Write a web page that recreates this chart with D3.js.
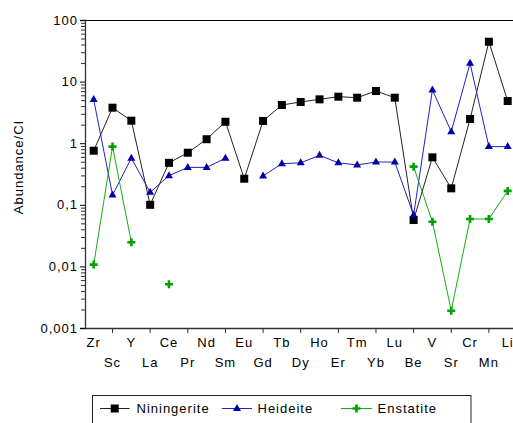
<!DOCTYPE html>
<html>
<head>
<meta charset="utf-8">
<script src="https://cdn.jsdelivr.net/npm/d3@7"></script>
<style>
  html, body { margin: 0; padding: 0; background: #fff; }
  svg { display: block; }
  text { font-family: "Liberation Sans", Arial, sans-serif; font-size: 13px; letter-spacing: 1px; fill: #000; }
</style>
</head>
<body>
<svg id="chart" width="513" height="423"></svg>
<script>
const categories = ["Zr","Sc","Y","La","Ce","Pr","Nd","Sm","Eu","Gd","Tb","Dy","Ho","Er","Tm","Yb","Lu","Be","V","Sr","Cr","Mn","Li"];
const niningerite = [0.755, 3.77, 2.32, 0.10, 0.48, 0.70, 1.16, 2.23, 0.265, 2.3, 4.17, 4.67, 5.15, 5.69, 5.48, 7.03, 5.48, 0.0566, 0.59, 0.185, 2.47, 44.4, 4.84];
const heideite = [5.1, 0.144, 0.57, 0.16, 0.297, 0.405, 0.405, 0.57, null, 0.294, 0.466, 0.48, 0.635, 0.48, 0.443, 0.495, 0.495, 0.068, 7.3, 1.54, 19.8, 0.88, 0.88];
const enstatite = [0.0107, 0.88, 0.0246, null, 0.00512, null, null, null, null, null, null, null, null, null, null, null, null, 0.416, 0.0532, 0.00191, 0.0588, 0.0588, 0.168];
const yTickValues = [100, 10, 1, 0.1, 0.01, 0.001];
const yTickLabels = ["100", "10", "1", "0,1", "0,01", "0,001"];
const seriesNames = ["Niningerite", "Heideite", "Enstatite"];
const yTitle = "Abundance/CI";

const svg = d3.select("#chart");
const plot = { left: 85, top: 20, right: 513, bottom: 328 };

const x = d3.scalePoint().domain(categories).range([93.7, 507.7]);
const y = d3.scaleLog().domain([0.001, 100]).range([plot.bottom, plot.top]);

// top frame line
svg.append("line").attr("x1", plot.left).attr("x2", plot.right)
  .attr("y1", plot.top + 0.5).attr("y2", plot.top + 0.5)
  .attr("stroke", "#000").attr("stroke-width", 1.2);

// Y axis with major + minor ticks
const minorTicks = [];
for (let e = -3; e < 2; e++) {
  for (let m = 2; m <= 9; m++) minorTicks.push(m * Math.pow(10, e));
}
const yAxisMinor = d3.axisLeft(y).tickValues(minorTicks).tickSize(4).tickFormat("");
const gMinor = svg.append("g").attr("transform", `translate(${plot.left},0)`).call(yAxisMinor);
gMinor.select(".domain").remove();
gMinor.selectAll("line").attr("stroke", "#333");

const yAxis = d3.axisLeft(y).tickValues(yTickValues).tickSize(5).tickPadding(2)
  .tickFormat((d, i) => yTickLabels[i]);
const gY = svg.append("g").attr("transform", `translate(${plot.left},0)`).call(yAxis);
gY.select(".domain").attr("stroke", "#333").attr("stroke-width", 1.3);
gY.selectAll("text").style("font-size", "13px").attr("fill", "#000");

// X axis: ticks at odd indices, labels in two rows
const xAxis = d3.axisBottom(x).tickSize(0).tickFormat("");
const gX = svg.append("g").attr("transform", `translate(0,${plot.bottom})`).call(xAxis);
gX.select(".domain").attr("d", `M${plot.left},0.5H${plot.right}`).attr("stroke", "#333").attr("stroke-width", 1.3);
categories.forEach((c, i) => {
  if (i % 2 === 1) {
    gX.append("line").attr("x1", x(c)).attr("x2", x(c)).attr("y1", 0).attr("y2", 5)
      .attr("stroke", "#333");
  }
  gX.append("text").attr("x", x(c)).attr("y", i % 2 === 0 ? 19 : 39)
    .attr("text-anchor", "middle").text(c);
});

// Y title
svg.append("text").attr("transform", `translate(23,167) rotate(-90)`)
  .attr("text-anchor", "middle").text(yTitle);

// Series
const series = [
  { name: seriesNames[0], values: niningerite, line: "#222", fill: "#000", marker: "square" },
  { name: seriesNames[1], values: heideite, line: "#2020c8", fill: "#0000a8", marker: "triangle" },
  { name: seriesNames[2], values: enstatite, line: "#10b010", fill: "#00a000", marker: "plus" }
];

const line = d3.line()
  .defined(d => d.v != null)
  .x(d => x(d.c)).y(d => y(d.v));

function drawMarker(g, type, cx, cy, fill) {
  if (type === "square") {
    g.append("rect").attr("x", cx - 4).attr("y", cy - 4).attr("width", 8).attr("height", 8).attr("fill", fill);
  } else if (type === "triangle") {
    g.append("path").attr("d", `M${cx},${cy - 4.5}L${cx + 4},${cy + 2.5}L${cx - 4},${cy + 2.5}Z`).attr("fill", fill);
  } else {
    g.append("path").attr("d", `M${cx - 4},${cy}H${cx + 4}M${cx},${cy - 4}V${cy + 4}`)
      .attr("stroke", fill).attr("stroke-width", 2.6).attr("fill", "none");
  }
}

series.forEach(s => {
  const data = categories.map((c, i) => ({ c, v: s.values[i] }));
  svg.append("path").datum(data).attr("d", line)
    .attr("fill", "none").attr("stroke", s.line).attr("stroke-width", 1);
  const g = svg.append("g");
  data.filter(d => d.v != null).forEach(d => drawMarker(g, s.marker, x(d.c), y(d.v), s.fill));
});

// Legend
const lg = svg.append("g");
lg.append("rect").attr("x", 92.5).attr("y", 395.5).attr("width", 378.5).attr("height", 40)
  .attr("fill", "none").attr("stroke", "#222").attr("stroke-width", 1);
const legendItems = [
  { s: series[0], x0: 100, x1: 129.5, tx: 136.5 },
  { s: series[1], x0: 222, x1: 252, tx: 257.5 },
  { s: series[2], x0: 341, x1: 372, tx: 377.5 }
];
legendItems.forEach(it => {
  const ly = 408.5;
  lg.append("line").attr("x1", it.x0).attr("x2", it.x1).attr("y1", ly).attr("y2", ly)
    .attr("stroke", it.s.line).attr("stroke-width", 1);
  drawMarker(lg, it.s.marker, (it.x0 + it.x1) / 2, ly, it.s.fill);
  lg.append("text").attr("x", it.tx).attr("y", ly).attr("dy", "0.36em").text(it.s.name);
});
</script>
</body>
</html>
